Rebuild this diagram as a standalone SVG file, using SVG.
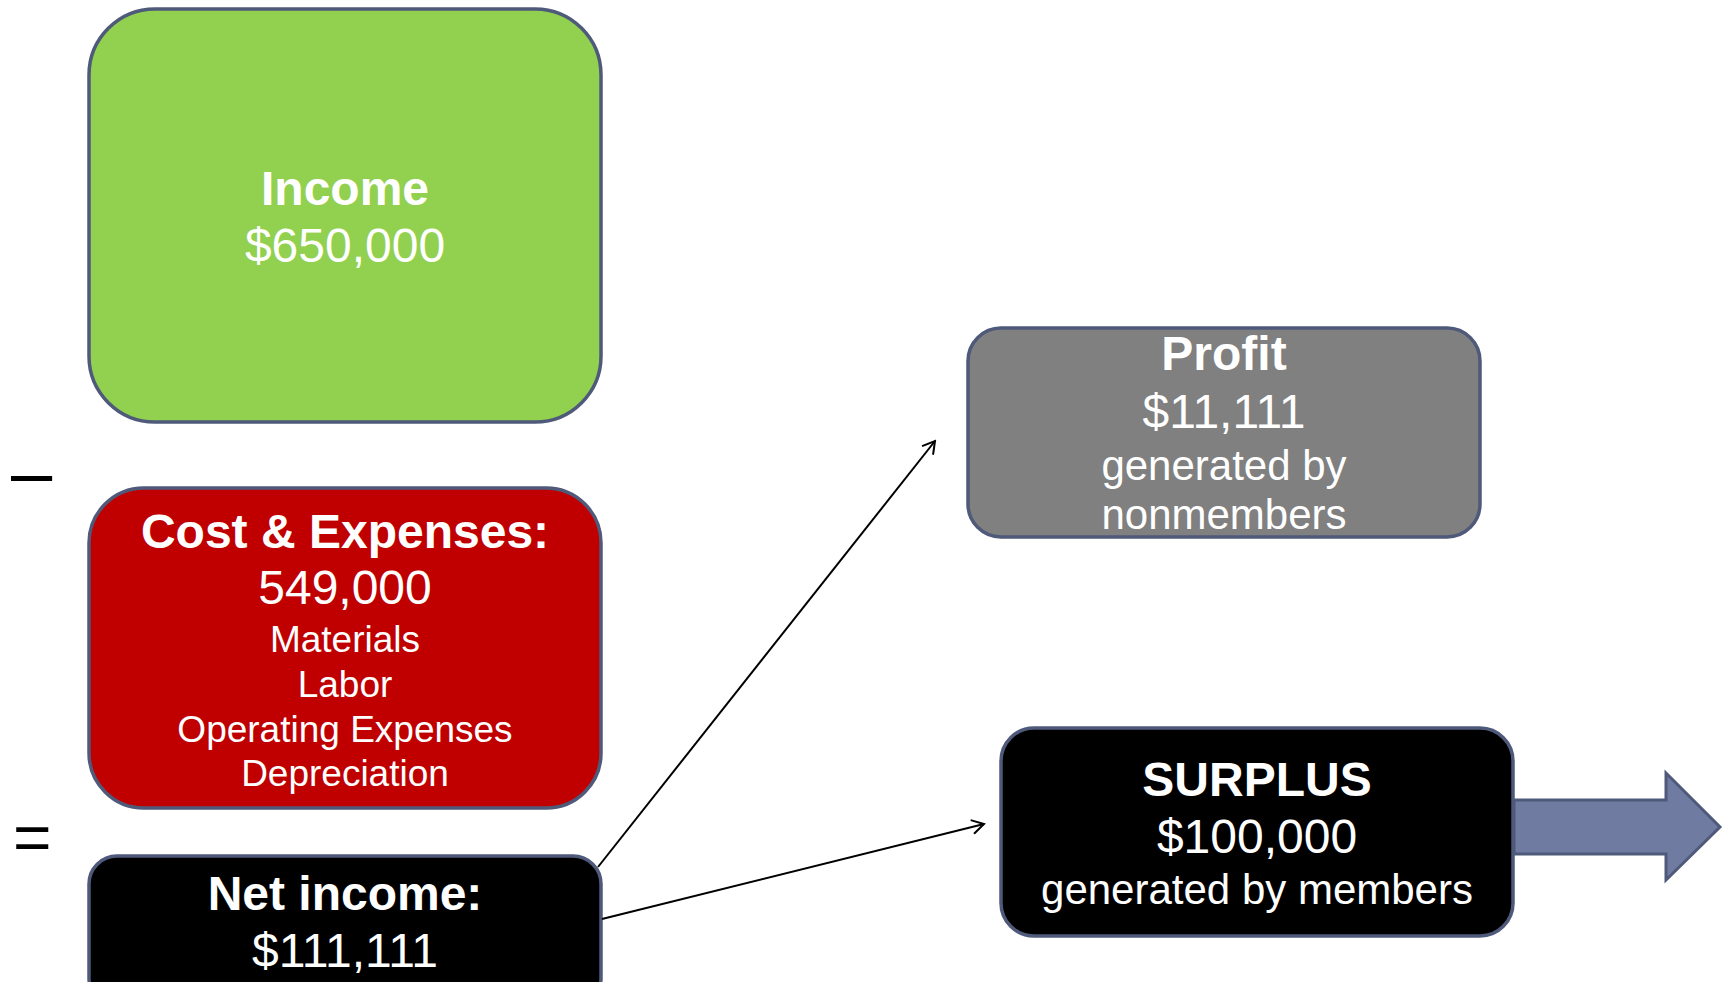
<svg xmlns="http://www.w3.org/2000/svg" width="1729" height="982" viewBox="0 0 1729 982">
<defs>
<style>
.box{stroke:#4f5a7b;stroke-width:3.5}
.t{font-family:"Liberation Sans",Arial,sans-serif;fill:#fff;text-anchor:middle}
.b{font-weight:bold;font-size:48px}
.r{font-size:48px}
.s{font-size:37px}
.m{font-size:42px}
.op{font-family:"Liberation Sans",Arial,sans-serif;fill:#000}
.conn{stroke:#000;stroke-width:2;fill:none}
</style>
<marker id="open" viewBox="0 0 16 16" refX="14" refY="8" markerWidth="16" markerHeight="16" markerUnits="userSpaceOnUse" orient="auto">
<path d="M2,1 L14,8 L2,15" fill="none" stroke="#000" stroke-width="2"/>
</marker>
</defs>
<rect width="1729" height="982" fill="#fff"/>
<g id="income">
<rect class="box" x="89" y="9" width="512" height="413" rx="66" fill="#92d050"/>
<text class="t b" x="345" y="205">Income</text>
<text class="t r" x="345" y="262">$650,000</text>
</g>
<g id="minus">
<text class="op" x="11" y="497" font-size="74">–</text>
</g>
<g id="costs">
<rect class="box" x="89" y="488" width="512" height="320" rx="55" fill="#c00000"/>
<text class="t b" x="345" y="548">Cost &amp; Expenses:</text>
<text class="t r" x="345" y="604">549,000</text>
<text class="t s" x="345" y="652">Materials</text>
<text class="t s" x="345" y="697">Labor</text>
<text class="t s" x="345" y="742">Operating Expenses</text>
<text class="t s" x="345" y="786">Depreciation</text>
</g>
<g id="equals">
<text class="op" x="13" y="860" font-size="66">=</text>
</g>
<g id="netincome">
<rect class="box" x="89" y="856" width="512" height="150" rx="28" fill="#000"/>
<text class="t b" x="345" y="910">Net income:</text>
<text class="t r" x="345" y="967">$111,111</text>
</g>
<g id="profit">
<rect class="box" x="968" y="328" width="512" height="209" rx="33" fill="#808080"/>
<text class="t b" x="1224" y="370">Profit</text>
<text class="t r" x="1224" y="428">$11,111</text>
<text class="t m" x="1224" y="480">generated by</text>
<text class="t m" x="1224" y="529">nonmembers</text>
</g>
<g id="surplus">
<rect class="box" x="1001" y="728" width="512" height="208" rx="33" fill="#000"/>
<text class="t b" x="1257" y="796">SURPLUS</text>
<text class="t r" x="1257" y="853">$100,000</text>
<text class="t m" x="1257" y="904">generated by members</text>
</g>
<g id="bigarrow">
<path d="M1514,800 L1666,800 L1666,773 L1720,827 L1666,880 L1666,854 L1514,854 Z" fill="#6f7ba0" stroke="#4f5a7b" stroke-width="3" stroke-linejoin="miter"/>
</g>
<g id="connectors">
<line class="conn" x1="598" y1="867" x2="935" y2="441" marker-end="url(#open)"/>
<line class="conn" x1="602" y1="919" x2="984" y2="824" marker-end="url(#open)"/>
</g>
</svg>
